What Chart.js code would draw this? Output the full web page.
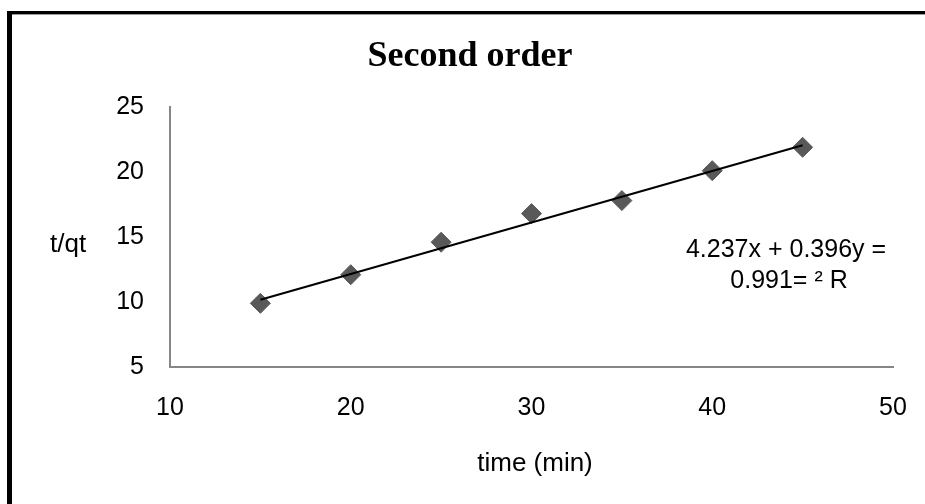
<!DOCTYPE html>
<html>
<head>
<meta charset="utf-8">
<script src="https://cdn.jsdelivr.net/npm/chart.js@4/dist/chart.umd.min.js"></script>
<style>
  html, body { margin: 0; padding: 0; background: #ffffff; }
  #wrap { width: 925px; height: 504px; position: relative; }
</style>
</head>
<body>
<div id="wrap"><canvas id="c" width="925" height="504"></canvas></div>
<script>
// ---- data ----
const timeMin = [15, 20, 25, 30, 35, 40, 45];
const tOverQt = [9.9, 12.1, 14.6, 16.8, 17.8, 20.1, 21.9];
const trendSlope = 0.396;
const trendIntercept = 4.237;
const trendRange = [15, 45];
const xTicks = [10, 20, 30, 40, 50];
const yTicks = [5, 10, 15, 20, 25];
const chartTitle = "Second order";
const xTitle = "time (min)";
const yTitle = "t/qt";
const equationLines = ["4.237x + 0.396y =", "0.991= \u00B2 R"];

const points = timeMin.map((x, i) => ({ x: x, y: tOverQt[i] }));
const trendPoints = trendRange.map(x => ({ x: x, y: trendSlope * x + trendIntercept }));

const SANS = '"Liberation Sans", Arial, sans-serif';

const decor = {
  id: 'decor',
  afterDraw(chart) {
    const ctx = chart.ctx;
    ctx.save();
    // outer frame (left + top, thick black)
    ctx.fillStyle = '#000000';
    ctx.fillRect(7, 11, 925, 3);
    ctx.fillRect(7, 11, 5, 504);
    ctx.fillStyle = '#9a9a9a';
    ctx.fillRect(12, 14, 925, 1);
    // title
    ctx.fillStyle = '#000000';
    ctx.textAlign = 'center';
    ctx.textBaseline = 'alphabetic';
    ctx.font = 'bold 36px "Liberation Serif", "Times New Roman", serif';
    ctx.fillText(chartTitle, 470, 66);
    // y title
    ctx.font = '26px ' + SANS;
    ctx.textAlign = 'left';
    ctx.textBaseline = 'middle';
    ctx.fillText(yTitle, 50, 245);
    // x title
    ctx.font = '26px "Liberation Sans Narrow", ' + SANS;
    ctx.textAlign = 'center';
    ctx.textBaseline = 'alphabetic';
    ctx.fillText(xTitle, 535, 471);
    // equation
    ctx.font = '25px ' + SANS;
    ctx.textAlign = 'center';
    ctx.fillText(equationLines[0], 786, 257);
    ctx.fillText(equationLines[1], 789, 288);
    ctx.restore();
  }
};

new Chart(document.getElementById('c'), {
  type: 'scatter',
  data: {
    datasets: [
      {
        type: 'line',
        label: 'trend',
        data: trendPoints,
        borderColor: '#000000',
        borderWidth: 2,
        pointRadius: 0,
        fill: false,
        order: 0
      },
      {
        label: 't/qt',
        data: points,
        pointStyle: 'rectRot',
        pointRadius: 10,
        pointHoverRadius: 10,
        backgroundColor: '#595959',
        borderColor: '#595959',
        borderWidth: 1,
        order: 1
      }
    ]
  },
  options: {
    responsive: false,
    animation: false,
    devicePixelRatio: 1,
    layout: { padding: { left: 0, top: 107, right: 32, bottom: 0 } },
    plugins: {
      legend: { display: false },
      tooltip: { enabled: false },
      title: { display: false }
    },
    scales: {
      x: {
        type: 'linear',
        min: xTicks[0],
        max: xTicks[xTicks.length - 1],
        afterBuildTicks: (s) => { s.ticks = xTicks.map(v => ({ value: v })); },
        afterFit: (s) => { s.height = 137; s.paddingLeft = 0; s.paddingRight = 0; },
        grid: { display: false, drawTicks: false, tickLength: 0 },
        border: { display: true, color: '#868686', width: 2 },
        ticks: { color: '#000000', font: { family: SANS, size: 25 }, padding: 26, maxRotation: 0 }
      },
      y: {
        type: 'linear',
        min: yTicks[0],
        max: yTicks[yTicks.length - 1],
        afterBuildTicks: (s) => { s.ticks = yTicks.map(v => ({ value: v })); },
        afterFit: (s) => { s.width = 170; s.paddingTop = 0; s.paddingBottom = 0; },
        grid: { display: false, drawTicks: false, tickLength: 0 },
        border: { display: true, color: '#868686', width: 2 },
        ticks: { color: '#000000', font: { family: SANS, size: 25 }, padding: 26 }
      }
    }
  },
  plugins: [decor]
});
</script>
</body>
</html>
